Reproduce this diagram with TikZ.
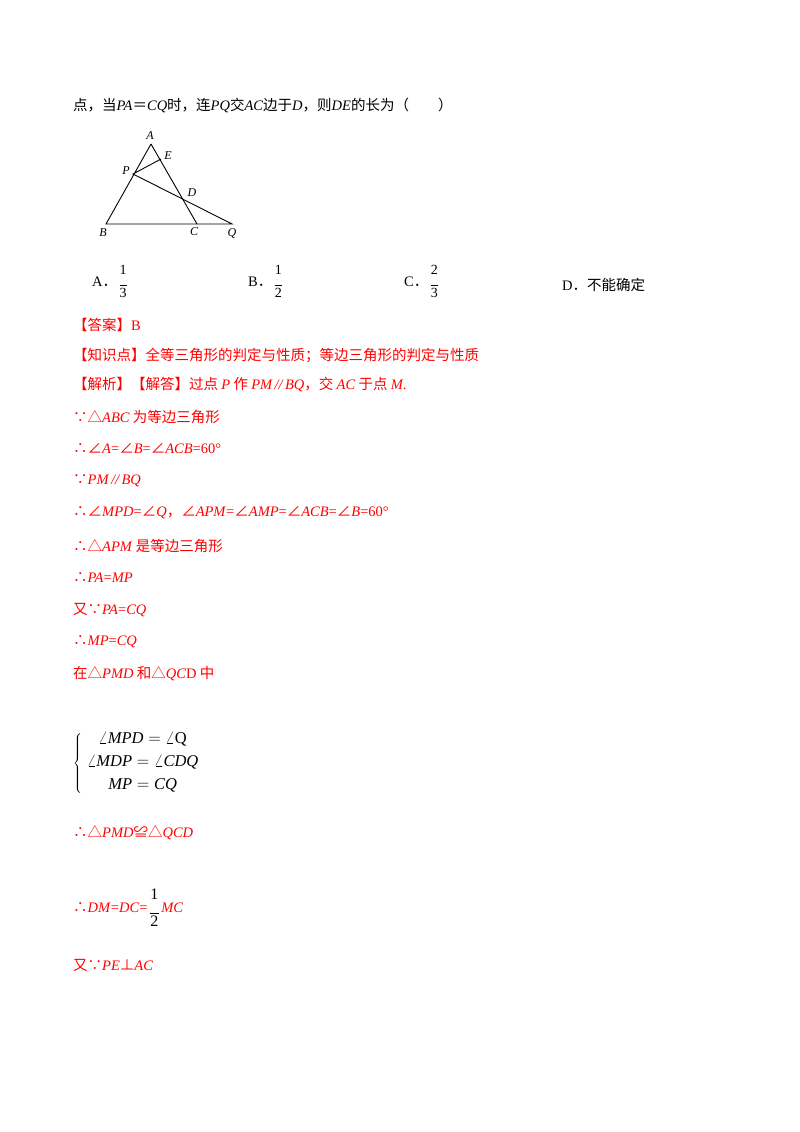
\documentclass[tikz,border=0pt]{standalone}
\usepackage{fontspec}
\setmainfont{Liberation Serif}
\newfontfamily\cjk{Noto Sans CJK SC}
\begin{document}
\begin{tikzpicture}[x=1pt,y=-1pt,
  t/.style={anchor=west,inner sep=0,font=\fontsize{14.5}{16}\selectfont},
  r/.style={t,text=red},
  lb/.style={inner sep=0,font=\fontsize{12}{14}\selectfont\itshape},
  seg/.style={line width=0.9pt}]
\useasboundingbox (0,0) rectangle (800,1132);
\newcommand\C[1]{{\cjk #1}}
\newcommand\I[1]{\textit{#1}}
\node[t] (l0) at (73,105) {\C{点，当}\I{PA}\C{＝}\I{CQ}\C{时，连}\I{PQ}\C{交}\I{AC}\C{边于}\I{D}\C{，则}\I{DE}\C{的长为（\quad\quad ）}};
% figure
\coordinate (A) at (151,144); \coordinate (B) at (106,224); \coordinate (C) at (197,224);
\coordinate (Q) at (232,224); \coordinate (P) at (133,174); \coordinate (E) at (161,159); \coordinate (D) at (184,201);
\draw[seg] (A) -- (B) -- (Q) -- (P) -- (E);
\draw[seg] (A) -- (C);
\node[lb] (la) at (150,136) {A}; \node[lb] (le) at (168,156) {E};
\node[lb] (lp) at (126,171) {P}; \node[lb] (ld) at (192,193) {D};
\node[lb] (lbb) at (103,233) {B}; \node[lb] (lc) at (194,232) {C}; \node[lb] (lq) at (232,233) {Q};
% options
\newcommand\fr[2]{$\vcenter{\hbox{\fontsize{14}{15}\selectfont\begin{tabular}{@{}c@{}}#1\\[-4pt]\rule{7pt}{0.5pt}\\[-3pt]#2\end{tabular}}}$}
\node[t] (oa) at (92,283) {A\C{．}\,\fr{1}{3}};
\node[t] (ob) at (248,283) {B\C{．}\,\fr{1}{2}};
\node[t] (oc) at (404,283) {C\C{．}\,\fr{2}{3}};
\node[t] (od) at (562,285) {D\C{．不能确定}};
% solution
\node[r] (s1) at (73,325) {\C{【答案】}B};
\node[r] (s2) at (73,355) {\C{【知识点】全等三角形的判定与性质；等边三角形的判定与性质}};
\node[r] (s3) at (73,385) {\C{【解析】【解答】过点 }\I{P}\C{ 作 }\I{PM\,//\,BQ}\C{，交 }\I{AC}\C{ 于点 }\I{M}.};
\node[r] (s4) at (73,417) {\C{∵△}\I{ABC}\C{ 为等边三角形}};
\node[r] (s5) at (73,449) {\C{∴∠}\I{A}=\C{∠}\I{B}=\C{∠}\I{ACB}=60°};
\node[r] (s6) at (73,481) {\C{∵}\I{PM\,//\,BQ}};
\node[r] (s7) at (73,513) {\C{∴∠}\I{MPD}=\C{∠}\I{Q}\C{，∠}\I{APM}=\C{∠}\I{AMP}=\C{∠}\I{ACB}=\C{∠}\I{B}=60°};
\node[r] (s8) at (73,546) {\C{∴△}\I{APM}\C{ 是等边三角形}};
\node[r] (s9) at (73,578) {\C{∴}\I{PA}=\I{MP}};
\node[r] (s10) at (73,610) {\C{又∵}\I{PA}=\I{CQ}};
\node[r] (s11) at (73,642) {\C{∴}\I{MP}=\I{CQ}};
\node[r] (s12) at (73,674) {\C{在△}\I{PMD}\C{ 和△}\I{QC}D\C{ 中}};
\node[t,font=\fontsize{16.5}{18}\selectfont] (sys) at (73,763) {$\left\{\begin{array}{c}\angle \mathit{MPD}=\angle\mathrm{Q}\\[5pt] \angle \mathit{MDP}=\angle \mathit{CDQ}\\[5pt] \mathit{MP}=\mathit{CQ}\end{array}\right.$};
\node[r] (s13) at (73,833) {\C{∴△}\I{PMD}\C{≌△}\I{QCD}};
\node[r] (s14) at (73,910) {\C{∴}\I{DM}=\I{DC}=\,\textcolor{black}{\raisebox{-0.3ex}{\fontsize{16}{17}\selectfont\begin{tabular}{@{}c@{}}1\\[-3pt]\rule{9pt}{0.5pt}\\[-4pt]2\end{tabular}}}\,\I{MC}};
\node[r] (s15) at (73,965) {\C{又∵}\I{PE}\C{⊥}\I{AC}};
\end{tikzpicture}
\end{document}
